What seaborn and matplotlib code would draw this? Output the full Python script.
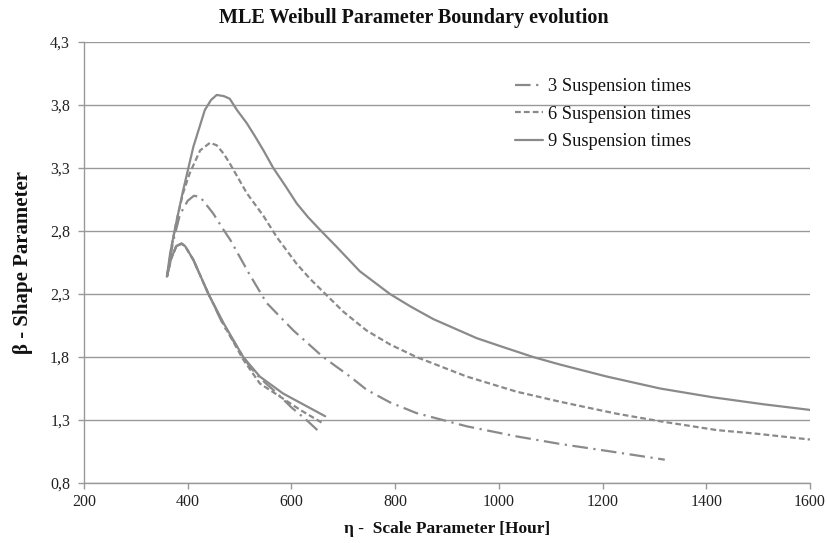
import matplotlib
matplotlib.use("Agg")
import matplotlib.pyplot as plt
import seaborn as sns
import pandas as pd
from matplotlib.ticker import FixedLocator

# ---- data (traversal: lower-branch end -> lower peak -> start -> upper peak -> upper end)
eta_3 = [650, 629, 600, 570, 540, 520, 500, 469, 440, 411, 395, 388, 378, 368, 360,
         372, 385, 400, 412, 424, 449, 469, 482, 520, 552, 604, 661, 713, 745, 790,
         841, 938, 1034, 1118, 1200, 1320]
beta_3 = [1.22, 1.30, 1.40, 1.52, 1.63, 1.72, 1.85, 2.05, 2.30, 2.57, 2.68, 2.70, 2.68, 2.58, 2.44,
          2.72, 2.93, 3.04, 3.08, 3.07, 2.94, 2.81, 2.73, 2.45, 2.23, 2.01, 1.80, 1.645, 1.54, 1.44,
          1.355, 1.25, 1.17, 1.11, 1.06, 0.985]

eta_6 = [658, 617, 580, 539, 507, 469, 440, 411, 395, 388, 378, 368, 360,
         370, 379, 391, 404, 424, 443, 456, 470, 482, 514, 546, 572, 610, 636, 668, 700, 745,
         790, 841, 938, 1034, 1118, 1227, 1311, 1420, 1500, 1600]
beta_6 = [1.28, 1.38, 1.48, 1.59, 1.78, 2.06, 2.30, 2.57, 2.68, 2.70, 2.68, 2.58, 2.44,
          2.70, 2.89, 3.10, 3.26, 3.44, 3.50, 3.48, 3.41, 3.33, 3.10, 2.92, 2.75, 2.54, 2.42, 2.29, 2.16, 2.01,
          1.90, 1.80, 1.645, 1.525, 1.445, 1.35, 1.29, 1.22, 1.19, 1.145]

eta_9 = [665, 620, 584, 539, 507, 469, 440, 411, 395, 388, 378, 368, 360,
         366, 375, 391, 411, 433, 445, 456, 470, 481, 495, 514, 530, 546, 565, 588, 610, 632, 655,
         687, 732, 790, 830, 874, 957, 1000, 1066, 1118, 1208, 1311, 1413, 1510, 1600]
beta_9 = [1.33, 1.43, 1.51, 1.645, 1.80, 2.07, 2.30, 2.57, 2.68, 2.70, 2.68, 2.58, 2.44,
          2.62, 2.81, 3.12, 3.47, 3.76, 3.84, 3.88, 3.87, 3.85, 3.76, 3.655, 3.55, 3.44, 3.30, 3.16, 3.02, 2.91, 2.81,
          2.675, 2.48, 2.30, 2.20, 2.10, 1.95, 1.89, 1.80, 1.74, 1.645, 1.55, 1.48, 1.425, 1.38]

series_names = ["3 Suspension times", "6 Suspension times", "9 Suspension times"]
x_ticks = [200, 400, 600, 800, 1000, 1200, 1400, 1600]
y_ticks = [0.8, 1.3, 1.8, 2.3, 2.8, 3.3, 3.8, 4.3]
y_tick_labels = ["0,8", "1,3", "1,8", "2,3", "2,8", "3,3", "3,8", "4,3"]

# ---- style
sns.set_theme(style="white")
plt.rcParams["font.family"] = ["Liberation Serif", "DejaVu Serif"]

fig = plt.figure(figsize=(8.28, 5.43), dpi=100)
ax = fig.add_axes([84 / 828, 1 - 483 / 543, (810 - 84) / 828, (483 - 42) / 543])

color = "#8a8a8a"
styles = [(0, (7, 2.5, 1, 2.5)), (0, (2.6, 1.4)), "-"]
datasets = [(eta_3, beta_3), (eta_6, beta_6), (eta_9, beta_9)]

for (xs, ys), name, ls in zip(datasets, series_names, styles):
    df = pd.DataFrame({"eta": xs, "beta": ys})
    sns.lineplot(data=df, x="eta", y="beta", sort=False, estimator=None, ax=ax,
                 color=color, linewidth=1.6, linestyle=ls, label=name)

ax.set_xlim(200, 1600)
ax.set_ylim(0.8, 4.3)
ax.xaxis.set_major_locator(FixedLocator(x_ticks))
ax.set_xticklabels([str(v) for v in x_ticks])
ax.yaxis.set_major_locator(FixedLocator(y_ticks))
ax.set_yticklabels(y_tick_labels)

ax.grid(axis="y", color="#999999", linewidth=1.0)
ax.grid(axis="x", visible=False)
ax.set_axisbelow(True)
for s in ["top", "right"]:
    ax.spines[s].set_visible(False)
for s in ["left", "bottom"]:
    ax.spines[s].set_visible(True)
    ax.spines[s].set_color("#999999")
    ax.spines[s].set_linewidth(1.0)

ax.tick_params(axis="both", which="major", direction="out", length=4, width=1,
               color="#999999", labelsize=11.5, labelcolor="#222222", pad=4,
               bottom=True, left=True)
ax.tick_params(axis="y", pad=6)

ax.set_title("MLE Weibull Parameter Boundary evolution", fontsize=14.5, fontweight="bold",
             color="#111111", pad=14, x=(414 - 84) / 726)
ax.set_xlabel("η -  Scale Parameter [Hour]", fontsize=12.5, fontweight="bold",
              color="#111111", labelpad=8)
ax.set_ylabel("β - Shape Parameter", fontsize=15, fontweight="bold",
              color="#111111", labelpad=12)

leg = ax.legend(loc="upper left", bbox_to_anchor=((515 - 84) / 726, (483 - 78) / 441),
                frameon=False, fontsize=13.3, handlelength=1.52, handletextpad=0.25,
                labelspacing=0.58, borderpad=0, borderaxespad=0)
for t in leg.get_texts():
    t.set_color("#111111")

fig.savefig("out.png", dpi=100)
